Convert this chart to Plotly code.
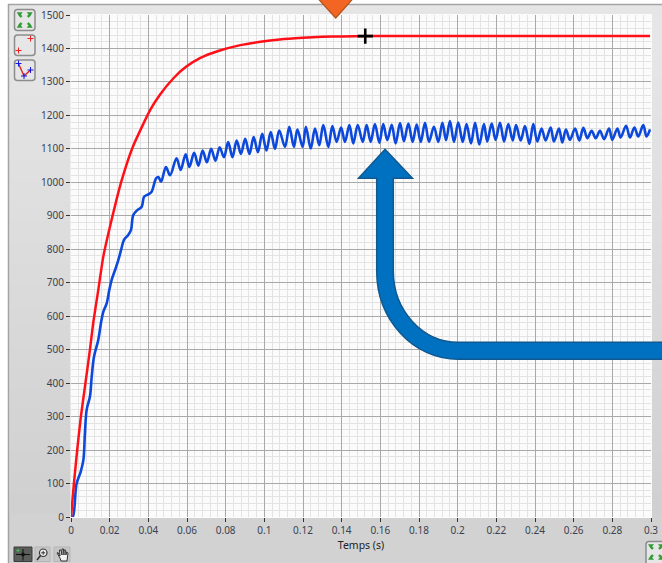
import plotly.graph_objects as go

# ---------- data ----------
x_ticks = [0, 0.02, 0.04, 0.06, 0.08, 0.1, 0.12, 0.14, 0.16, 0.18, 0.2, 0.22, 0.24, 0.26, 0.28, 0.3]
x_labels = ["0", "0.02", "0.04", "0.06", "0.08", "0.1", "0.12", "0.14", "0.16", "0.18", "0.2", "0.22", "0.24", "0.26", "0.28", "0.3"]
y_ticks = [0, 100, 200, 300, 400, 500, 600, 700, 800, 900, 1000, 1100, 1200, 1300, 1400, 1500]
y_labels = [str(v) for v in y_ticks]

red_t = [0, 0.0015, 0.0032, 0.005, 0.0072, 0.0098, 0.0115, 0.0141, 0.0167, 0.0215, 0.0259, 0.0319, 0.0409,
         0.046, 0.053, 0.0595, 0.0667, 0.0765, 0.0876, 0.098, 0.108, 0.12, 0.13, 0.14, 0.1526, 0.2, 0.25, 0.2995]
red_v = [0, 100, 200, 295, 389, 500, 580, 678, 778, 900, 1000, 1105, 1216,
         1262, 1311, 1345, 1371, 1393, 1410, 1420, 1427, 1432, 1435, 1436, 1437, 1437, 1437, 1437]

blue_t = [0, 0.0009, 0.0029, 0.005, 0.0064, 0.0072, 0.0081, 0.0098, 0.0107, 0.0119, 0.0141, 0.0155, 0.0167, 0.0185, 0.0198, 0.021,
          0.0228, 0.0245, 0.0259, 0.0274, 0.0296, 0.031, 0.0322, 0.0343, 0.0366, 0.0378, 0.04, 0.0417, 0.044,
          0.0452, 0.0466, 0.0491, 0.0512, 0.0546, 0.0567, 0.0593, 0.0612, 0.0637, 0.0659, 0.0681, 0.0703, 0.0725,
          0.0747, 0.0769, 0.0791, 0.0813, 0.0835, 0.0857, 0.0879, 0.0901, 0.0923, 0.0945, 0.0967, 0.0989, 0.1011,
          0.1033, 0.1055, 0.1077, 0.1107, 0.1129, 0.1153, 0.1171, 0.1198, 0.1215, 0.124, 0.1262, 0.1284, 0.1305,
          0.1331, 0.1352, 0.1374, 0.1397, 0.1417, 0.144, 0.146, 0.1483, 0.1509, 0.1529, 0.155, 0.1572, 0.1595,
          0.1615, 0.1636, 0.1659, 0.1679, 0.1702, 0.1722, 0.1745, 0.1767, 0.1788, 0.1809, 0.1831, 0.1852, 0.1877,
          0.19, 0.1921, 0.194, 0.196, 0.1981, 0.2003, 0.2026, 0.2046, 0.2069, 0.209, 0.2112, 0.2136, 0.2153, 0.2176,
          0.2196, 0.2219, 0.224, 0.2262, 0.2285, 0.2302, 0.2326, 0.2348, 0.2371, 0.2391, 0.2412, 0.2434, 0.2455,
          0.2481, 0.2498, 0.2524, 0.2541, 0.256, 0.2581, 0.2607, 0.2629, 0.265, 0.2671, 0.2693, 0.2714, 0.2736,
          0.2757, 0.2783, 0.28, 0.2826, 0.2843, 0.2871, 0.2891, 0.2914, 0.2934, 0.296, 0.2977, 0.2995]
blue_v = [0, 0, 100, 135, 170, 250, 320, 360, 419, 479, 529, 580, 613, 639, 678, 708,
          738, 768, 798, 828, 843, 857, 902, 917, 927, 957, 964, 972, 1012,
          1016, 1002, 1046, 1021, 1072, 1037, 1084, 1046, 1088, 1050, 1095, 1060, 1100,
          1065, 1105, 1075, 1120, 1075, 1125, 1085, 1130, 1085, 1135, 1090, 1145, 1095,
          1150, 1100, 1155, 1106, 1166, 1106, 1158, 1106, 1166, 1101, 1161, 1111, 1171,
          1106, 1168, 1121, 1164, 1121, 1171, 1116, 1171, 1121, 1171, 1121, 1174, 1118,
          1174, 1126, 1172, 1116, 1177, 1123, 1176, 1121, 1173, 1121, 1178, 1121, 1166,
          1121, 1178, 1126, 1183, 1121, 1179, 1121, 1174, 1116, 1178, 1113, 1174, 1122, 1176,
          1127, 1178, 1122, 1174, 1125, 1171, 1125, 1168, 1115, 1174, 1122, 1161, 1125,
          1164, 1122, 1161, 1119, 1158, 1127, 1161, 1125, 1163, 1132, 1154, 1132, 1154,
          1129, 1161, 1127, 1161, 1134, 1169, 1134, 1164, 1137, 1171, 1137, 1158]

cursor_t = [0.1522]
cursor_v = [1437]

x_range = [0, 0.3]
y_range = [0, 1500]
x_title = "Temps (s)"

# ---------- page geometry helpers (overlay artwork only) ----------
W, H = 662, 563
L, R, T, B = 71, 651, 15, 517
X = lambda px: (px - L) / (R - L)
Y = lambda py: (B - py) / (B - T)
shapes = []


def rect(x0, y0, x1, y1, fill, line=None, lw=1, layer="below"):
    shapes.append(dict(type="rect", xref="paper", yref="paper", x0=X(x0), x1=X(x1), y0=Y(y0), y1=Y(y1),
                       fillcolor=fill, line=dict(color=line or fill, width=lw if line else 0), layer=layer))


def seg(x0, y0, x1, y1, color, lw=1):
    shapes.append(dict(type="line", xref="paper", yref="paper", x0=X(x0), x1=X(x1), y0=Y(y0), y1=Y(y1),
                       line=dict(color=color, width=lw), layer="above"))


def circle(x0, y0, x1, y1, fill, line, lw=1):
    shapes.append(dict(type="circle", xref="paper", yref="paper", x0=X(x0), x1=X(x1), y0=Y(y0), y1=Y(y1),
                       fillcolor=fill, line=dict(color=line, width=lw), layer="above"))


def path(cmds, fill, line, lw=1):
    out = []
    for c in cmds:
        if c == "Z":
            out.append("Z")
        else:
            pts = " ".join(f"{X(c[i]):.5f},{Y(c[i + 1]):.5f}" for i in range(1, len(c), 2))
            out.append(c[0] + pts)
    shapes.append(dict(type="path", xref="paper", yref="paper", path=" ".join(out), fillcolor=fill,
                       line=dict(color=line, width=lw), layer="above"))


def poly(pts, fill, line=None, lw=0.5):
    cmds = [("M", *pts[0])] + [("L", *p) for p in pts[1:]] + ["Z"]
    path(cmds, fill, line or fill, lw)


def button(x0, y0, x1, y1, fill="#e6e6e6", line="#8c8c8c"):
    r = 3
    path([("M", x0 + r, y0), ("L", x1 - r, y0), ("Q", x1, y0, x1, y0 + r), ("L", x1, y1 - r),
          ("Q", x1, y1, x1 - r, y1), ("L", x0 + r, y1), ("Q", x0, y1, x0, y1 - r), ("L", x0, y0 + r),
          ("Q", x0, y0, x0 + r, y0), "Z"], fill, line, 1.5)


def plus(cx, cy, color, s=3):
    seg(cx - s, cy, cx + s, cy, color, 1)
    seg(cx, cy - s, cx, cy + s, color, 1)


def green_arrows(cx, cy, d):
    c = "#2f9a35"
    for sx, sy in [(-1, -1), (1, -1), (-1, 1), (1, 1)]:
        ax, ay = cx + sx * d, cy + sy * d
        poly([(ax + sx * 2.5, ay + sy * 2.5), (ax - sx * 2.5, ay + sy * 2.5), (ax - sx * 1, ay + sy * 0.5),
              (ax - sx * 2.5, ay - sy * 1.2), (ax - sx * 1.0, ay - sy * 2.5), (ax + sx * 0.5, ay - sy * 1),
              ], c)


# ---------- backgrounds ----------
rect(8.5, 4.5, W + 2, H + 2, "#d2d2d2", "#a3a3a3", 1.5)
N = 24
for i in range(N):
    y0 = 14 + i * (500 / N)
    g = 230 - int(22 * i / (N - 1))
    rect(9.5, y0, 71, y0 + 500 / N + 0.5, f"rgb({g},{g},{g})")
    rect(651, y0, W + 2, y0 + 500 / N + 0.5, f"rgb({g},{g},{g})")
rect(9.5, 5.5, W + 2, 14, "#e5e5e5")
rect(70.5, 14, 652, 518, "#fbfbfb")

# ---------- left palette buttons ----------
button(14.5, 9.5, 35, 30.5)
green_arrows(24.7, 20, 5)
button(14.5, 35, 35, 55.5)
plus(18.5, 50.5, "#f02020")
plus(30.5, 38.5, "#f02020")
button(14.5, 60, 35, 80.5)
seg(18.5, 63.5, 24, 76, "#e01818", 1.3)
seg(24, 76, 30.5, 70, "#e01818", 1.3)
plus(18.5, 63.5, "#1414e0")
plus(24, 76, "#1414e0")
plus(30.5, 70, "#1414e0")

# ---------- bottom palette ----------
rect(14, 547, 32, 561.5, "#5b5e5b", "#3a3a3a", 1, layer="above")
seg(16, 554.5, 30, 554.5, "#111111", 1)
seg(23, 549, 23, 560.5, "#111111", 1)
circle(21.5, 553, 24.5, 556, "#111111", "#111111")
plus(18, 550.5, "#39c24a", 1.8)
rect(35, 547, 50, 561.5, "#c6c6c6", "#b5b5b5", 1, layer="above")
circle(39.5, 549, 47, 556.5, "#f0f0f0", "#333333", 1.2)
seg(40.5, 555.5, 37, 560, "#333333", 1.6)
plus(43.2, 552.8, "#333333", 2)
rect(54, 547, 70, 561.5, "#c6c6c6", "#b5b5b5", 1, layer="above")
path([("M", 57, 553), ("L", 60, 558), ("L", 61, 561), ("L", 67, 561), ("L", 68, 553), ("L", 66.5, 552), ("L", 66, 555),
      ("L", 65.5, 550), ("L", 64, 550), ("L", 64, 555), ("L", 63.5, 549), ("L", 62, 549), ("L", 62, 555), ("L", 61, 550),
      ("L", 59.5, 550), ("L", 60, 556), ("L", 58, 552.5), "Z"], "#f2f2f2", "#333333", 1)

# ---------- bottom-right button ----------
button(646, 541.5, W + 6, H + 6)
green_arrows(656, 552, 5)

# ---------- callout arrows ----------
tip, hl, hr, sl, sr = 385.0, 358.5, 412.5, 376.7, 393.3
hy, by, top_e, bot_e = 178.3, 271.0, 342.3, 359.3
ex = 458.3
k = 0.5523
path([("M", tip, 149.3), ("L", hr, hy), ("L", sr, hy), ("L", sr, by),
      ("C", sr, by + k * (top_e - by), ex - k * (ex - sr), top_e, ex, top_e),
      ("L", W + 4, top_e), ("L", W + 4, bot_e), ("L", ex, bot_e),
      ("C", ex - k * (ex - sl), bot_e, sl, by + k * (bot_e - by), sl, by),
      ("L", sl, hy), ("L", hl, hy), "Z"], "#0070c0", "#11598f", 1.5)
poly([(316.5, -3), (354.5, -3), (335.7, 18)], "#f26522", "#b4521c", 1.2)

# ---------- figure ----------
fig = go.Figure()
fig.add_trace(go.Scatter(x=blue_t, y=blue_v, mode="lines", line=dict(color="#0c48dc", width=2.6, shape="spline", smoothing=1.0),
                         showlegend=False, hoverinfo="skip"))
fig.add_trace(go.Scatter(x=red_t, y=red_v, mode="lines", line=dict(color="#ff1018", width=2.5, shape="spline", smoothing=0.5),
                         showlegend=False, hoverinfo="skip"))
fig.add_trace(go.Scatter(x=cursor_t, y=cursor_v, mode="markers",
                         marker=dict(symbol="cross-thin", size=11, line=dict(color="#000000", width=2.6)),
                         showlegend=False, hoverinfo="skip"))

tick_font = dict(family="Noto Sans", size=10, color="#3a4250")
axis_common = dict(showline=False, zeroline=False, showgrid=True, gridcolor="#a9a9a9", gridwidth=1.2, automargin=False,
                   ticks="outside", ticklen=4, tickwidth=1, tickcolor="#333333", tickfont=tick_font, layer="below traces")
fig.update_layout(
    width=W, height=H, autosize=False,
    margin=dict(l=L, r=W - R, t=T, b=H - B, pad=0),
    paper_bgcolor="#ffffff", plot_bgcolor="rgba(0,0,0,0)",
    shapes=shapes, showlegend=False,
    xaxis=dict(range=x_range, tickmode="array", tickvals=x_ticks, ticktext=x_labels,
               minor=dict(dtick=0.004, tick0=0, showgrid=True, gridcolor="#e3e3e3", gridwidth=1.3, ticks=""),
               title=dict(text=x_title, font=dict(family="Noto Sans", size=10.5, color="#222222"), standoff=5),
               **axis_common),
    yaxis=dict(range=y_range, tickmode="array", tickvals=y_ticks, ticktext=y_labels,
               minor=dict(dtick=20, tick0=0, showgrid=True, gridcolor="#e3e3e3", gridwidth=1.3, ticks=""),
               **axis_common),
)
fig.write_html("out.html", config=dict(displayModeBar=False), post_script="document.body.style.margin='0';document.body.style.overflow='hidden';")
